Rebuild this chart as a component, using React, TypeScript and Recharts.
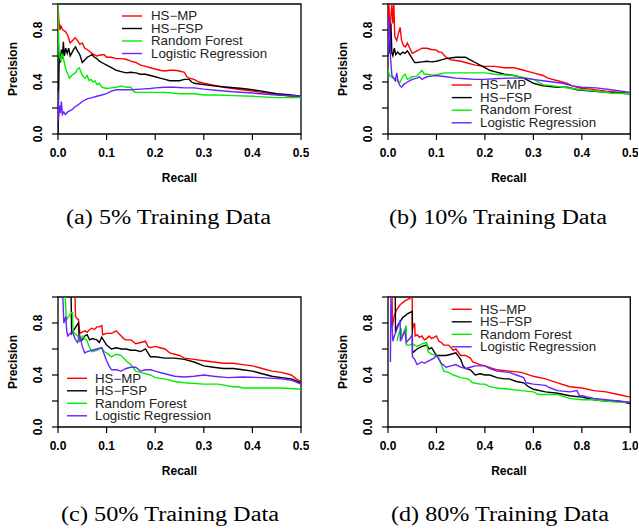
import React from 'react';
import { LineChart, Line, XAxis, YAxis, ReferenceArea } from 'recharts';

type Pt = [number, number];

// ---------- labels ----------
const seriesNames = ['HS\u2212MP', 'HS\u2212FSP', 'Random Forest', 'Logistic Regression'];
const seriesColors = ['#ff0000', '#000000', '#00ee00', '#6a22ff'];
const captions = ['(a) 5% Training Data', '(b) 10% Training Data', '(c) 50% Training Data', '(d) 80% Training Data'];
const xTicksHalf = [0, 0.1, 0.2, 0.3, 0.4, 0.5];
const xTicksFull = [0, 0.2, 0.4, 0.6, 0.8, 1.0];
const yTicks = [0, 0.2, 0.4, 0.6, 0.8, 1.0];
const yTickLabels = [0, 0.4, 0.8];

// ---------- (a) 5% training data ----------
const a_hsmp: Pt[] = [[0,1.0],[0.002,0.86],[0.004,0.80],[0.006,0.83],[0.01,0.80],[0.015,0.79],[0.02,0.76],[0.025,0.70],[0.03,0.72],[0.035,0.74],[0.04,0.72],[0.045,0.69],[0.05,0.70],[0.055,0.66],[0.06,0.65],[0.07,0.62],[0.08,0.60],[0.09,0.61],[0.095,0.61],[0.1,0.59],[0.11,0.59],[0.12,0.58],[0.13,0.58],[0.14,0.575],[0.15,0.56],[0.16,0.55],[0.17,0.53],[0.18,0.52],[0.19,0.51],[0.2,0.50],[0.21,0.49],[0.22,0.485],[0.23,0.49],[0.24,0.49],[0.25,0.485],[0.26,0.475],[0.265,0.44],[0.27,0.43],[0.28,0.42],[0.29,0.40],[0.3,0.39],[0.32,0.375],[0.34,0.36],[0.36,0.35],[0.38,0.34],[0.4,0.33],[0.42,0.32],[0.44,0.31],[0.46,0.30],[0.48,0.29],[0.5,0.29]];
const a_hsfsp: Pt[] = [[0,0.0],[0.002,0.5],[0.003,0.62],[0.005,0.55],[0.007,0.65],[0.009,0.58],[0.011,0.71],[0.013,0.60],[0.016,0.66],[0.019,0.62],[0.022,0.66],[0.025,0.60],[0.028,0.62],[0.032,0.65],[0.036,0.67],[0.04,0.64],[0.045,0.61],[0.05,0.55],[0.055,0.57],[0.06,0.59],[0.065,0.60],[0.07,0.61],[0.075,0.59],[0.08,0.58],[0.085,0.56],[0.09,0.55],[0.1,0.53],[0.11,0.51],[0.12,0.49],[0.13,0.48],[0.14,0.47],[0.15,0.475],[0.16,0.47],[0.17,0.46],[0.18,0.46],[0.19,0.45],[0.2,0.44],[0.21,0.43],[0.22,0.42],[0.23,0.41],[0.24,0.41],[0.25,0.41],[0.26,0.42],[0.27,0.42],[0.275,0.40],[0.28,0.39],[0.3,0.38],[0.32,0.37],[0.35,0.36],[0.38,0.35],[0.4,0.34],[0.42,0.33],[0.45,0.31],[0.48,0.30],[0.5,0.29]];
const a_rf: Pt[] = [[0,1.0],[0.001,0.75],[0.003,0.60],[0.006,0.56],[0.008,0.62],[0.01,0.60],[0.013,0.55],[0.016,0.50],[0.02,0.46],[0.024,0.43],[0.028,0.45],[0.032,0.46],[0.036,0.47],[0.04,0.50],[0.044,0.51],[0.048,0.47],[0.052,0.44],[0.056,0.43],[0.06,0.45],[0.064,0.41],[0.068,0.42],[0.072,0.40],[0.076,0.41],[0.08,0.38],[0.085,0.39],[0.09,0.36],[0.1,0.35],[0.11,0.355],[0.12,0.36],[0.13,0.37],[0.14,0.36],[0.15,0.36],[0.155,0.33],[0.16,0.32],[0.18,0.32],[0.2,0.32],[0.22,0.32],[0.25,0.31],[0.28,0.31],[0.3,0.30],[0.33,0.30],[0.36,0.295],[0.4,0.29],[0.45,0.28],[0.5,0.28]];
const a_lr: Pt[] = [[0,0.33],[0.001,0.10],[0.003,0.22],[0.005,0.16],[0.007,0.25],[0.009,0.15],[0.012,0.17],[0.015,0.15],[0.02,0.17],[0.025,0.18],[0.03,0.19],[0.035,0.21],[0.04,0.22],[0.05,0.25],[0.06,0.27],[0.07,0.28],[0.08,0.29],[0.09,0.30],[0.1,0.31],[0.11,0.33],[0.12,0.34],[0.13,0.34],[0.14,0.34],[0.15,0.34],[0.17,0.345],[0.19,0.35],[0.2,0.355],[0.22,0.36],[0.24,0.36],[0.26,0.355],[0.28,0.355],[0.3,0.345],[0.33,0.335],[0.36,0.325],[0.4,0.315],[0.45,0.30],[0.5,0.29]];

// ---------- (b) 10% training data ----------
const b_hsmp: Pt[] = [[0,0.75],[0.002,1.0],[0.004,0.75],[0.006,0.9],[0.008,1.0],[0.01,0.85],[0.012,1.0],[0.014,0.75],[0.018,0.72],[0.022,0.78],[0.025,0.82],[0.028,0.72],[0.032,0.68],[0.036,0.67],[0.04,0.70],[0.045,0.66],[0.05,0.62],[0.055,0.63],[0.06,0.64],[0.07,0.66],[0.08,0.66],[0.09,0.65],[0.1,0.645],[0.105,0.63],[0.11,0.63],[0.115,0.61],[0.12,0.59],[0.13,0.57],[0.14,0.565],[0.15,0.56],[0.16,0.55],[0.18,0.53],[0.2,0.52],[0.22,0.52],[0.24,0.51],[0.26,0.51],[0.27,0.50],[0.28,0.49],[0.29,0.48],[0.3,0.47],[0.31,0.46],[0.32,0.45],[0.33,0.43],[0.35,0.41],[0.37,0.39],[0.38,0.37],[0.4,0.35],[0.42,0.345],[0.45,0.33],[0.48,0.32],[0.5,0.31]];
const b_hsfsp: Pt[] = [[0,0.60],[0.002,0.75],[0.004,0.62],[0.006,0.85],[0.008,0.62],[0.01,0.60],[0.013,0.66],[0.016,0.61],[0.02,0.63],[0.025,0.61],[0.03,0.63],[0.035,0.62],[0.04,0.64],[0.045,0.61],[0.05,0.58],[0.055,0.55],[0.06,0.55],[0.07,0.555],[0.08,0.56],[0.09,0.555],[0.1,0.56],[0.11,0.57],[0.12,0.58],[0.13,0.585],[0.14,0.59],[0.15,0.59],[0.16,0.59],[0.165,0.58],[0.17,0.57],[0.18,0.55],[0.19,0.53],[0.2,0.51],[0.21,0.49],[0.22,0.48],[0.24,0.46],[0.26,0.45],[0.28,0.43],[0.29,0.41],[0.3,0.39],[0.32,0.37],[0.35,0.36],[0.37,0.36],[0.39,0.34],[0.42,0.33],[0.45,0.32],[0.5,0.31]];
const b_rf: Pt[] = [[0,0.50],[0.003,0.45],[0.006,0.44],[0.01,0.43],[0.015,0.42],[0.02,0.41],[0.025,0.40],[0.03,0.44],[0.035,0.46],[0.04,0.42],[0.045,0.43],[0.05,0.44],[0.06,0.445],[0.065,0.47],[0.07,0.49],[0.075,0.46],[0.08,0.46],[0.09,0.455],[0.1,0.455],[0.11,0.465],[0.12,0.47],[0.14,0.47],[0.16,0.47],[0.18,0.47],[0.2,0.47],[0.22,0.46],[0.24,0.455],[0.26,0.45],[0.28,0.435],[0.3,0.42],[0.32,0.38],[0.34,0.37],[0.36,0.36],[0.38,0.35],[0.4,0.34],[0.43,0.33],[0.46,0.315],[0.5,0.31]];
const b_lr: Pt[] = [[0,0.60],[0.003,0.9],[0.005,0.60],[0.008,0.45],[0.012,0.43],[0.015,0.41],[0.018,0.47],[0.021,0.40],[0.025,0.37],[0.028,0.36],[0.032,0.38],[0.036,0.39],[0.04,0.40],[0.045,0.41],[0.05,0.42],[0.06,0.43],[0.065,0.44],[0.07,0.42],[0.08,0.44],[0.09,0.445],[0.1,0.45],[0.12,0.44],[0.14,0.43],[0.16,0.425],[0.18,0.42],[0.2,0.42],[0.22,0.425],[0.25,0.43],[0.28,0.43],[0.3,0.42],[0.32,0.41],[0.34,0.40],[0.36,0.39],[0.38,0.37],[0.4,0.36],[0.43,0.355],[0.46,0.34],[0.5,0.32]];

// ---------- (c) 50% training data ----------
const c_hsmp: Pt[] = [[0.033,1.0],[0.035,1.0],[0.036,0.85],[0.04,0.83],[0.042,0.83],[0.045,0.72],[0.05,0.73],[0.055,0.74],[0.06,0.73],[0.065,0.75],[0.07,0.76],[0.075,0.75],[0.08,0.77],[0.085,0.77],[0.09,0.78],[0.092,0.71],[0.1,0.72],[0.11,0.72],[0.115,0.73],[0.12,0.74],[0.125,0.72],[0.13,0.70],[0.135,0.68],[0.14,0.67],[0.15,0.67],[0.16,0.64],[0.17,0.65],[0.18,0.66],[0.185,0.62],[0.19,0.61],[0.2,0.62],[0.21,0.61],[0.22,0.60],[0.23,0.57],[0.24,0.56],[0.25,0.55],[0.26,0.53],[0.28,0.52],[0.3,0.51],[0.32,0.50],[0.34,0.49],[0.36,0.49],[0.38,0.48],[0.4,0.47],[0.42,0.45],[0.44,0.43],[0.46,0.42],[0.48,0.40],[0.49,0.37],[0.5,0.35]];
const c_hsfsp: Pt[] = [[0.027,1.0],[0.028,0.72],[0.035,0.76],[0.042,0.80],[0.044,0.66],[0.05,0.67],[0.055,0.70],[0.06,0.71],[0.065,0.67],[0.07,0.68],[0.08,0.67],[0.085,0.65],[0.09,0.69],[0.095,0.66],[0.1,0.63],[0.11,0.60],[0.12,0.61],[0.13,0.60],[0.14,0.60],[0.15,0.59],[0.16,0.59],[0.17,0.58],[0.18,0.60],[0.19,0.54],[0.2,0.54],[0.22,0.53],[0.24,0.53],[0.26,0.52],[0.28,0.50],[0.3,0.47],[0.32,0.46],[0.34,0.45],[0.36,0.45],[0.38,0.44],[0.4,0.43],[0.42,0.41],[0.44,0.39],[0.46,0.38],[0.48,0.37],[0.5,0.34]];
const c_rf: Pt[] = [[0.015,1.0],[0.017,0.82],[0.022,0.85],[0.028,0.88],[0.03,0.88],[0.031,0.73],[0.035,0.72],[0.04,0.70],[0.045,0.66],[0.05,0.70],[0.055,0.68],[0.06,0.66],[0.065,0.61],[0.07,0.58],[0.08,0.59],[0.09,0.61],[0.095,0.58],[0.1,0.57],[0.11,0.54],[0.12,0.56],[0.13,0.55],[0.14,0.51],[0.15,0.48],[0.16,0.43],[0.17,0.42],[0.19,0.40],[0.2,0.38],[0.22,0.37],[0.24,0.35],[0.26,0.34],[0.3,0.33],[0.33,0.33],[0.36,0.31],[0.37,0.31],[0.38,0.30],[0.42,0.30],[0.46,0.30],[0.5,0.29]];
const c_lr: Pt[] = [[0.01,1.0],[0.012,0.80],[0.016,0.85],[0.018,0.74],[0.02,0.70],[0.025,0.72],[0.03,0.73],[0.035,0.68],[0.04,0.65],[0.045,0.70],[0.05,0.62],[0.055,0.57],[0.06,0.58],[0.07,0.59],[0.08,0.60],[0.09,0.61],[0.095,0.56],[0.1,0.51],[0.105,0.47],[0.11,0.44],[0.12,0.44],[0.13,0.43],[0.14,0.45],[0.15,0.46],[0.16,0.46],[0.17,0.43],[0.18,0.44],[0.19,0.44],[0.2,0.43],[0.22,0.41],[0.24,0.39],[0.26,0.385],[0.28,0.39],[0.3,0.40],[0.32,0.39],[0.35,0.38],[0.38,0.385],[0.42,0.38],[0.46,0.37],[0.48,0.36],[0.5,0.33]];

// ---------- (d) 80% training data ----------
const d_hsmp: Pt[] = [[0.017,1.0],[0.018,0.77],[0.025,0.85],[0.035,0.9],[0.05,0.94],[0.07,0.97],[0.09,0.99],[0.1,1.0],[0.101,0.75],[0.105,0.78],[0.11,0.80],[0.112,0.70],[0.12,0.71],[0.13,0.69],[0.14,0.70],[0.15,0.67],[0.16,0.68],[0.17,0.70],[0.18,0.68],[0.19,0.69],[0.2,0.70],[0.21,0.66],[0.22,0.65],[0.23,0.63],[0.25,0.63],[0.27,0.59],[0.28,0.60],[0.3,0.55],[0.32,0.55],[0.34,0.53],[0.35,0.50],[0.38,0.48],[0.4,0.47],[0.45,0.44],[0.5,0.43],[0.55,0.42],[0.6,0.39],[0.65,0.37],[0.7,0.34],[0.75,0.31],[0.8,0.30],[0.85,0.28],[0.9,0.27],[0.95,0.25],[1.0,0.23]];
const d_hsfsp: Pt[] = [[0.03,1.0],[0.031,0.73],[0.04,0.78],[0.06,0.84],[0.08,0.87],[0.1,0.89],[0.101,0.57],[0.12,0.60],[0.14,0.62],[0.16,0.63],[0.17,0.60],[0.18,0.61],[0.2,0.55],[0.22,0.55],[0.24,0.55],[0.26,0.56],[0.28,0.57],[0.3,0.52],[0.31,0.47],[0.32,0.45],[0.34,0.44],[0.36,0.40],[0.38,0.41],[0.4,0.40],[0.42,0.40],[0.45,0.38],[0.48,0.37],[0.5,0.37],[0.53,0.35],[0.56,0.34],[0.58,0.31],[0.6,0.29],[0.65,0.27],[0.7,0.26],[0.75,0.24],[0.8,0.23],[0.85,0.21],[0.9,0.20],[0.95,0.20],[1.0,0.18]];
const d_rf: Pt[] = [[0.037,0.66],[0.045,0.72],[0.055,0.76],[0.056,0.67],[0.065,0.73],[0.075,0.78],[0.076,0.63],[0.09,0.63],[0.1,0.64],[0.12,0.62],[0.14,0.64],[0.16,0.65],[0.165,0.58],[0.18,0.56],[0.2,0.55],[0.21,0.53],[0.22,0.48],[0.23,0.43],[0.25,0.42],[0.27,0.40],[0.3,0.38],[0.33,0.37],[0.35,0.34],[0.38,0.33],[0.4,0.33],[0.42,0.31],[0.45,0.30],[0.5,0.29],[0.55,0.28],[0.6,0.27],[0.62,0.25],[0.65,0.25],[0.7,0.25],[0.75,0.22],[0.8,0.21],[0.85,0.21],[0.9,0.20],[0.95,0.19],[1.0,0.19]];
const d_lr: Pt[] = [[0.01,0.5],[0.012,1.0],[0.015,0.85],[0.02,0.66],[0.03,0.72],[0.04,0.77],[0.05,0.82],[0.051,0.66],[0.06,0.70],[0.07,0.74],[0.075,0.65],[0.09,0.68],[0.1,0.71],[0.101,0.54],[0.11,0.52],[0.12,0.48],[0.14,0.50],[0.15,0.49],[0.17,0.51],[0.19,0.53],[0.2,0.55],[0.21,0.52],[0.22,0.49],[0.24,0.46],[0.26,0.47],[0.28,0.48],[0.3,0.46],[0.32,0.45],[0.34,0.46],[0.36,0.47],[0.38,0.47],[0.4,0.47],[0.42,0.45],[0.45,0.43],[0.5,0.42],[0.53,0.40],[0.56,0.38],[0.57,0.34],[0.6,0.33],[0.65,0.32],[0.67,0.30],[0.7,0.28],[0.75,0.27],[0.78,0.28],[0.79,0.24],[0.8,0.24],[0.85,0.22],[0.9,0.21],[0.95,0.20],[1.0,0.19]];

// ---------- layout ----------
const SANS = "'Liberation Sans', Arial, Helvetica, sans-serif";
const SERIF = "'Liberation Serif', 'Times New Roman', Times, serif";
const Y_AXIS_W = 58;
const PLOT_TOP = 4;
const PLOT_H = 130;
const X_AXIS_H = 60;

type PanelSpec = {
  plotLeft: number;
  plotTop: number;
  plotW: number;
  xMax: number;
  xTicks: number[];
  series: Pt[][];
  legend: { lineX: number; textX: number; rows: number[] };
  caption: { text: string; cx: number; baseline: number; width: number };
};

const panels: PanelSpec[] = [
  { plotLeft: 58, plotTop: 4, plotW: 243, xMax: 0.5, xTicks: xTicksHalf, series: [a_hsmp, a_hsfsp, a_rf, a_lr],
    legend: { lineX: 122, textX: 151, rows: [16, 28.5, 41, 53.5] },
    caption: { text: captions[0], cx: 168.5, baseline: 224, width: 205 } },
  { plotLeft: 387.7, plotTop: 4, plotW: 242.3, xMax: 0.5, xTicks: xTicksHalf, series: [b_hsmp, b_hsfsp, b_rf, b_lr],
    legend: { lineX: 451.7, textX: 480, rows: [85, 97.6, 110.2, 122.8] },
    caption: { text: captions[1], cx: 498, baseline: 224, width: 218 } },
  { plotLeft: 58, plotTop: 297, plotW: 243, xMax: 0.5, xTicks: xTicksHalf, series: [c_hsmp, c_hsfsp, c_rf, c_lr],
    legend: { lineX: 67, textX: 95, rows: [378.3, 390.8, 403.3, 415.8] },
    caption: { text: captions[2], cx: 170, baseline: 521, width: 218 } },
  { plotLeft: 387.7, plotTop: 297, plotW: 242.3, xMax: 1.0, xTicks: xTicksFull, series: [d_hsmp, d_hsfsp, d_rf, d_lr],
    legend: { lineX: 451.7, textX: 480, rows: [309.3, 321.8, 334.3, 346.8] },
    caption: { text: captions[3], cx: 500, baseline: 521, width: 218 } },
];

const XTick = (props: any) => {
  const { x, payload } = props;
  return (
    <text x={x} y={PLOT_TOP + PLOT_H + 23} textAnchor="middle" fontFamily={SANS} fontWeight="bold" fontSize={12} fill="#000">
      {Number(payload.value).toFixed(1)}
    </text>
  );
};

const YTick = (props: any) => {
  const { y, payload } = props;
  const v = Number(payload.value);
  if (!yTickLabels.some((t) => Math.abs(t - v) < 1e-9)) return <g />;
  const bx = Y_AXIS_W - 16;
  return (
    <text x={bx} y={y} transform={`rotate(-90 ${bx} ${y})`} textAnchor="middle" fontFamily={SANS} fontWeight="bold" fontSize={12} fill="#000">
      {v.toFixed(1)}
    </text>
  );
};

const Panel = ({ spec }: { spec: PanelSpec }) => {
  const chartW = Y_AXIS_W + spec.plotW + 8;
  const chartH = PLOT_TOP + PLOT_H + X_AXIS_H + 4;
  return (
    <div style={{ position: 'absolute', left: spec.plotLeft - Y_AXIS_W, top: spec.plotTop - PLOT_TOP }}>
      <LineChart width={chartW} height={chartH} margin={{ top: PLOT_TOP, right: 8, bottom: 4, left: 0 }}>
        <XAxis
          type="number"
          dataKey="x"
          domain={[0, spec.xMax]}
          ticks={spec.xTicks}
          allowDataOverflow
          axisLine={false}
          tickLine={{ stroke: '#000', strokeWidth: 1.2 }}
          tickSize={6}
          tick={<XTick />}
          height={X_AXIS_H}
          interval={0}
        />
        <YAxis
          type="number"
          dataKey="y"
          domain={[0, 1]}
          ticks={yTicks}
          allowDataOverflow
          axisLine={false}
          tickLine={{ stroke: '#000', strokeWidth: 1.2 }}
          tickSize={6}
          tick={<YTick />}
          width={Y_AXIS_W}
          interval={0}
        />
        <ReferenceArea x1={0} x2={spec.xMax} y1={0} y2={1} fill="none" stroke="#000" strokeWidth={1.3} ifOverflow="visible" />
        {spec.series.map((pts, i) => (
          <Line
            key={seriesNames[i]}
            name={seriesNames[i]}
            data={pts.map(([x, y]) => ({ x, y }))}
            dataKey="y"
            type="linear"
            stroke={seriesColors[i]}
            strokeWidth={1.4}
            dot={false}
            activeDot={false}
            isAnimationActive={false}
          />
        ))}
      </LineChart>
    </div>
  );
};

const Texts = ({ spec }: { spec: PanelSpec }) => {
  const bottom = spec.plotTop + PLOT_H;
  const pbx = spec.plotLeft - 41;
  const pcy = spec.plotTop + PLOT_H / 2;
  return (
    <g>
      <text x={spec.plotLeft + spec.plotW / 2} y={bottom + 48} textAnchor="middle" fontFamily={SANS} fontWeight="bold" fontSize={12} fill="#000">
        Recall
      </text>
      <text x={pbx} y={pcy} transform={`rotate(-90 ${pbx} ${pcy})`} textAnchor="middle" fontFamily={SANS} fontWeight="bold" fontSize={12} fill="#000">
        Precision
      </text>
      {seriesNames.map((n, i) => (
        <g key={n}>
          <line x1={spec.legend.lineX} x2={spec.legend.lineX + 20} y1={spec.legend.rows[i]} y2={spec.legend.rows[i]} stroke={seriesColors[i]} strokeWidth={1.4} />
          <text
            x={0}
            y={0}
            transform={`translate(${spec.legend.textX} ${spec.legend.rows[i] + 4.2}) scale(1.11 1)`}
            fontFamily={SANS}
            fontSize={12}
            fill="#222"
          >
            {n}
          </text>
        </g>
      ))}
      <text
        x={spec.caption.cx - spec.caption.width / 2}
        y={spec.caption.baseline}
        fontFamily={SERIF}
        fontSize={20}
        textLength={spec.caption.width}
        lengthAdjust="spacingAndGlyphs"
        fill="#000"
      >
        {spec.caption.text}
      </text>
    </g>
  );
};

export default function App() {
  return (
    <div style={{ position: 'absolute', left: 0, top: 0, width: 639, height: 529, background: '#fff', overflow: 'hidden' }}>
      {panels.map((p, i) => (
        <Panel key={i} spec={p} />
      ))}
      <svg width={639} height={529} style={{ position: 'absolute', left: 0, top: 0, pointerEvents: 'none' }}>
        {panels.map((p, i) => (
          <Texts key={i} spec={p} />
        ))}
      </svg>
    </div>
  );
}
